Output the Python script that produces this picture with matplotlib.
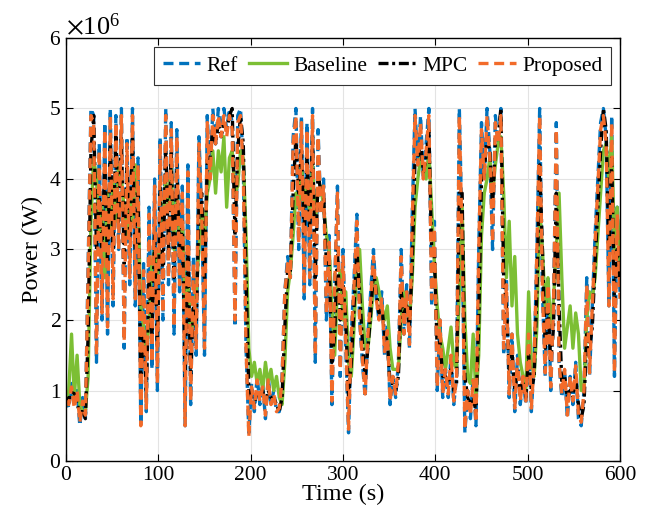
import numpy as np
import matplotlib
matplotlib.use("Agg")
import matplotlib.pyplot as plt
from matplotlib.ticker import ScalarFormatter

# time axis (s), 3 s sampling
time_s = np.arange(0, 601, 3)

# power values in MW (plotted in W)
ref_mw = [
    0.9, 0.75, 1.1, 0.8, 1.0, 0.5, 0.9, 0.6, 2.8, 5.0,
    4.9, 1.4, 4.5, 2.0, 4.8, 1.8, 5.0, 2.2, 4.9, 3.0,
    5.0, 1.6, 4.6, 2.5, 5.0, 2.2, 4.3, 0.5, 2.8, 0.7,
    3.6, 1.3, 4.0, 1.0, 4.6, 2.0, 5.0, 2.5, 4.8, 1.8,
    4.7, 2.4, 3.9, 0.5, 4.2, 0.8, 2.9, 1.5, 4.6, 3.5,
    1.5, 4.9, 4.0, 5.0, 4.5, 5.0, 4.6, 5.0, 4.7, 5.0,
    4.8, 1.9, 4.9, 5.0, 4.2, 1.6, 0.4, 1.1, 0.7, 1.2,
    0.8, 1.1, 0.6, 1.2, 0.8, 1.0, 0.7, 0.7, 1.2, 2.4,
    2.9, 2.6, 4.6, 5.0, 3.0, 4.9, 2.3, 4.8, 2.5, 5.0,
    1.4, 4.7, 3.5, 4.0, 2.0, 3.2, 0.8, 2.5, 3.9, 1.2,
    3.0, 1.6, 0.4, 1.8, 2.6, 3.5, 2.0, 1.4, 0.9, 1.8,
    2.4, 3.0, 2.3, 2.0, 2.4, 1.5, 1.9, 0.8, 1.2, 0.9,
    1.4, 3.0, 1.8, 2.5, 1.6, 3.5, 5.0, 4.2, 4.9, 4.0,
    4.5, 5.0, 2.2, 3.4, 1.0, 2.0, 0.9, 1.3, 0.9, 1.5,
    0.8, 1.2, 5.0, 3.2, 0.4, 1.0, 0.6, 1.2, 0.5, 3.0,
    4.8, 4.0, 5.0, 4.4, 3.0, 4.9, 4.5, 5.0, 1.5, 2.6,
    0.9, 1.8, 0.7, 1.5, 0.8, 1.2, 0.8, 1.9, 0.7, 1.4,
    3.0, 5.0, 2.4, 1.2, 2.6, 1.0, 2.2, 4.8, 1.4, 0.9,
    1.3, 0.6, 1.2, 0.8, 1.4, 0.6, 0.5, 1.0, 2.6, 1.2,
    2.2, 3.2, 4.0, 4.8, 5.0, 4.6, 2.2, 4.9, 1.2, 3.6,
    2.4,
]

baseline_mw = [
    0.8, 1.0, 1.8, 0.9, 1.5, 0.8, 0.7, 0.7, 1.2, 3.4,
    4.3, 4.0, 3.2, 3.6, 2.6, 3.8, 3.3, 4.0, 3.4, 4.2,
    4.0, 3.6, 3.2, 3.8, 3.4, 4.2, 3.6, 2.2, 1.9, 1.5,
    2.0, 2.8, 3.0, 2.6, 3.2, 3.4, 4.0, 3.6, 4.2, 3.0,
    3.8, 3.2, 3.4, 2.2, 2.6, 1.8, 2.0, 2.4, 3.0, 3.5,
    3.2, 3.8, 4.0, 4.4, 3.8, 4.4, 4.1, 4.6, 3.6, 4.3,
    4.4, 3.8, 3.9, 4.4, 4.3, 3.2, 1.6, 1.2, 1.4, 1.1,
    1.3, 1.0, 1.4, 1.1, 1.3, 1.0, 1.2, 0.9, 0.8, 1.4,
    2.4, 2.7, 3.2, 3.8, 3.6, 4.2, 3.6, 4.0, 3.5, 4.2,
    3.4, 3.8, 3.9, 3.6, 3.2, 3.0, 2.2, 1.5, 2.5, 2.7,
    2.0, 2.4, 1.4, 1.2, 1.9, 2.8, 3.0, 2.2, 1.6, 1.6,
    2.0, 2.5, 2.6, 2.4, 2.2, 2.0, 2.2, 1.6, 1.3, 1.3,
    1.3, 2.0, 2.4, 2.2, 2.0, 2.6, 3.6, 4.0, 4.3, 4.2,
    4.0, 4.4, 3.6, 2.8, 2.2, 1.8, 1.6, 1.3, 1.6, 1.9,
    1.4, 1.3, 2.4, 3.6, 2.0, 1.2, 1.1, 1.8, 0.9, 1.5,
    3.2, 3.8, 4.0, 4.3, 3.8, 4.2, 4.5, 4.6, 3.8, 2.6,
    3.4, 2.2, 2.9, 1.8, 1.4, 1.2, 1.0, 2.4, 1.4, 1.2,
    1.9, 3.6, 3.0, 2.2, 2.6, 1.9, 2.3, 3.0, 3.8, 2.6,
    1.6, 1.9, 2.2, 1.6, 2.1, 1.8, 1.0, 1.0, 2.0, 2.4,
    2.3, 2.6, 3.2, 3.8, 4.4, 4.5, 4.0, 4.6, 3.0, 3.6,
    2.8,
]

mpc_mw = [
    0.8, 0.9, 0.9, 1.0, 0.8, 0.7, 0.7, 0.6, 1.8, 4.4,
    4.9, 3.0, 3.8, 3.0, 4.2, 2.8, 4.5, 3.0, 4.6, 3.4,
    4.6, 2.8, 4.2, 3.2, 4.6, 3.0, 3.8, 1.2, 1.8, 1.0,
    2.6, 1.8, 3.2, 1.6, 3.9, 2.6, 4.5, 3.0, 4.4, 2.6,
    4.2, 2.9, 3.4, 1.2, 3.0, 1.2, 2.2, 1.9, 3.6, 3.8,
    2.6, 4.2, 4.3, 4.7, 4.5, 4.8, 4.6, 4.8, 4.7, 4.9,
    5.0, 3.2, 4.4, 4.9, 4.5, 2.6, 1.0, 0.9, 0.8, 1.0,
    0.9, 1.0, 0.8, 1.0, 0.9, 0.9, 0.8, 0.7, 0.9, 1.9,
    2.7, 2.7, 3.8, 4.6, 3.8, 4.4, 3.2, 4.3, 3.3, 4.6,
    2.6, 4.1, 3.8, 3.8, 2.8, 2.8, 1.4, 1.8, 3.0, 2.0,
    2.5, 2.0, 0.9, 1.4, 2.2, 3.0, 2.4, 1.7, 1.2, 1.6,
    2.1, 2.7, 2.4, 2.1, 2.2, 1.8, 1.7, 1.1, 1.1, 1.0,
    1.2, 2.4, 2.1, 2.2, 1.9, 2.8, 4.3, 4.3, 4.5, 4.1,
    4.3, 4.7, 3.0, 2.9, 1.6, 1.7, 1.2, 1.2, 1.1, 1.3,
    1.0, 1.1, 3.8, 3.8, 1.2, 0.9, 0.8, 0.9, 0.7, 2.0,
    4.0, 4.1, 4.6, 4.4, 3.6, 4.5, 4.6, 5.0, 2.6, 2.2,
    1.3, 1.5, 1.0, 1.3, 1.0, 1.1, 0.9, 1.5, 1.0, 1.2,
    2.4, 4.2, 3.0, 1.6, 2.2, 1.4, 1.9, 3.8, 2.2, 1.1,
    1.2, 0.9, 1.0, 0.9, 1.2, 0.8, 0.6, 0.8, 1.8, 1.6,
    1.9, 2.8, 3.6, 4.4, 5.0, 4.7, 3.0, 4.3, 2.2, 3.0,
    2.5,
]

proposed_mw = [
    0.85, 0.8, 1.05, 0.75, 1.0, 0.55, 0.85, 0.65, 2.7, 4.9,
    4.8, 1.5, 4.4, 2.1, 4.7, 1.9, 4.9, 2.3, 4.8, 3.0,
    4.9, 1.7, 4.5, 2.6, 4.9, 2.3, 4.2, 0.5, 2.7, 0.75,
    3.5, 1.4, 3.9, 1.1, 4.5, 2.1, 4.9, 2.6, 4.7, 1.9,
    4.6, 2.5, 3.8, 0.5, 4.1, 0.85, 2.8, 1.6, 4.5, 3.5,
    1.6, 4.8, 4.0, 4.9, 4.5, 4.9, 4.6, 4.9, 4.6, 4.9,
    4.7, 2.0, 4.8, 4.9, 4.1, 1.6, 0.35, 1.05, 0.75, 1.15,
    0.85, 1.05, 0.65, 1.15, 0.8, 0.95, 0.7, 0.75, 1.15, 2.4,
    2.8, 2.6, 4.5, 4.9, 3.1, 4.8, 2.4, 4.7, 2.6, 4.9,
    1.5, 4.6, 3.5, 3.9, 2.1, 3.1, 0.85, 2.5, 3.8, 1.3,
    2.9, 1.7, 0.45, 1.8, 2.5, 3.4, 2.0, 1.45, 0.95, 1.8,
    2.3, 2.9, 2.3, 2.0, 2.3, 1.55, 1.85, 0.85, 1.2, 0.95,
    1.4, 2.9, 1.8, 2.4, 1.65, 3.4, 4.9, 4.2, 4.8, 4.0,
    4.4, 4.9, 2.3, 3.3, 1.05, 2.0, 0.95, 1.3, 0.95, 1.5,
    0.85, 1.2, 4.9, 3.1, 0.45, 1.0, 0.65, 1.15, 0.55, 3.0,
    4.7, 4.0, 4.9, 4.3, 3.1, 4.8, 4.5, 4.9, 1.6, 2.5,
    0.95, 1.8, 0.75, 1.45, 0.85, 1.2, 0.85, 1.8, 0.75, 1.4,
    3.0, 4.9, 2.4, 1.25, 2.5, 1.05, 2.2, 4.7, 1.4, 0.95,
    1.3, 0.65, 1.2, 0.85, 1.35, 0.65, 0.55, 1.0, 2.5, 1.25,
    2.2, 3.1, 3.9, 4.7, 4.9, 4.5, 2.2, 4.8, 1.25, 3.5,
    2.3,
]

series_labels = ["Ref", "Baseline", "MPC", "Proposed"]
x_ticks = [0, 100, 200, 300, 400, 500, 600]
y_ticks = [0, 1e6, 2e6, 3e6, 4e6, 5e6, 6e6]

plt.rcParams["font.family"] = ["Liberation Serif", "DejaVu Serif"]
plt.rcParams["mathtext.fontset"] = "stix"

fig = plt.figure(figsize=(6.56, 5.32), dpi=100)
ax = fig.add_axes([66 / 656, 71 / 532, 554 / 656, 423 / 532])

scale = 1e6
ax.plot(time_s, np.array(ref_mw) * scale, color="#0072BD", lw=2.4, ls=(0, (3.0, 1.7)), label=series_labels[0])
ax.plot(time_s, np.array(baseline_mw) * scale, color="#7CBF34", lw=2.4, ls="-", label=series_labels[1])
ax.plot(time_s, np.array(mpc_mw) * scale, color="black", lw=2.4, ls=(0, (3.0, 1.1, 0.9, 1.1)), label=series_labels[2])
ax.plot(time_s, np.array(proposed_mw) * scale, color="#F26B2A", lw=2.4, ls=(0, (3.0, 1.7)), label=series_labels[3])

ax.set_xlim(0, 600)
ax.set_ylim(0, 6e6)
ax.set_xticks(x_ticks)
ax.set_yticks(y_ticks)

fmt = ScalarFormatter(useMathText=True)
fmt.set_powerlimits((0, 0))
ax.yaxis.set_major_formatter(fmt)
ax.yaxis.get_offset_text().set_fontsize(19)

ax.grid(True, color="#E3E3E3", lw=0.8)
ax.set_axisbelow(True)
ax.tick_params(direction="in", top=True, right=True, labelsize=15.5, length=5, width=0.8)
for s in ax.spines.values():
    s.set_linewidth(1.0)

ax.set_xlabel("Time (s)", fontsize=17.5, labelpad=-0.5)
ax.set_ylabel("Power (W)", fontsize=17.5, labelpad=4)

leg = ax.legend(loc="upper right", ncol=4, fontsize=15.5, frameon=True, fancybox=False,
                framealpha=1, edgecolor="#333333", handlelength=1.75, handletextpad=0.3,
                columnspacing=0.5, borderpad=0.42, borderaxespad=0.4)
leg.get_frame().set_linewidth(0.8)

fig.savefig("out.png", dpi=100)
